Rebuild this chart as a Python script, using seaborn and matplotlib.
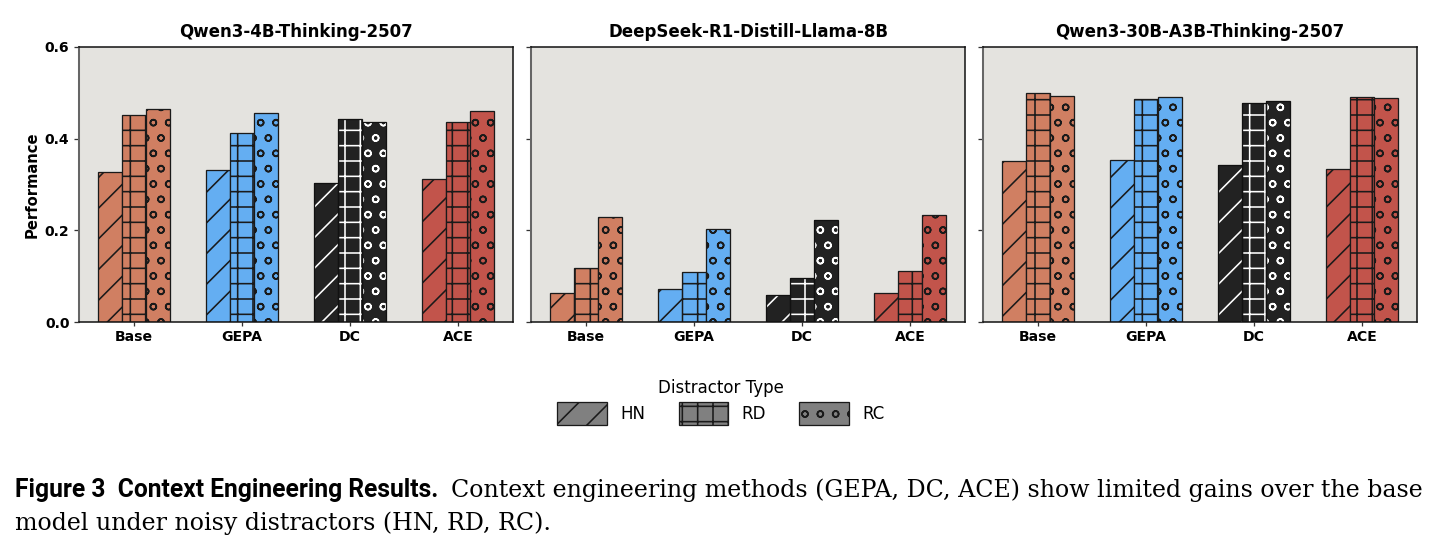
import numpy as np
import pandas as pd
import matplotlib
matplotlib.use("Agg")
import matplotlib.pyplot as plt
import seaborn as sns
from matplotlib.patches import Patch, Rectangle

# ---------------- data ----------------
models = ["Qwen3-4B-Thinking-2507", "DeepSeek-R1-Distill-Llama-8B", "Qwen3-30B-A3B-Thinking-2507"]
methods = ["Base", "GEPA", "DC", "ACE"]
distractors = ["HN", "RD", "RC"]

qwen4b_hn = [0.327, 0.331, 0.303, 0.312]
qwen4b_rd = [0.452, 0.412, 0.443, 0.437]
qwen4b_rc = [0.465, 0.455, 0.437, 0.460]

llama8b_hn = [0.064, 0.071, 0.058, 0.064]
llama8b_rd = [0.117, 0.110, 0.095, 0.112]
llama8b_rc = [0.230, 0.202, 0.222, 0.233]

qwen30b_hn = [0.351, 0.353, 0.343, 0.333]
qwen30b_rd = [0.499, 0.487, 0.478, 0.491]
qwen30b_rc = [0.493, 0.491, 0.483, 0.488]

yticks = [0.0, 0.2, 0.4, 0.6]

# ---------------- styles ----------------
method_colors = {"Base": "#d07f62", "GEPA": "#64aef2", "DC": "#222222", "ACE": "#c2544b"}
hatches = {"HN": "/", "RD": "+", "RC": "o"}
bg = "#e4e3df"

series = {
    models[0]: {"HN": qwen4b_hn, "RD": qwen4b_rd, "RC": qwen4b_rc},
    models[1]: {"HN": llama8b_hn, "RD": llama8b_rd, "RC": llama8b_rc},
    models[2]: {"HN": qwen30b_hn, "RD": qwen30b_rd, "RC": qwen30b_rc},
}

rows = []
for m in models:
    for d in distractors:
        for meth, v in zip(methods, series[m][d]):
            rows.append({"Model": m, "Method": meth, "Distractor": d, "Performance": v})
df = pd.DataFrame(rows)

sns.set_theme(style="white")
plt.rcParams["font.family"] = ["DejaVu Sans"]
plt.rcParams["hatch.linewidth"] = 1.25
for k in ["text.color", "axes.labelcolor", "xtick.color", "ytick.color"]:
    plt.rcParams[k] = "black"

DPI = 92
fig = plt.figure(figsize=(1442 / DPI, 551 / DPI), dpi=DPI)

lefts = [79, 531, 983]
ax_w = 434
top_px, bot_px = 47, 322
W, H = 1442, 551
axes = []
for i, m in enumerate(models):
    ax = fig.add_axes([lefts[i] / W, 1 - bot_px / H, ax_w / W, (bot_px - top_px) / H])
    axes.append(ax)
    sub = df[df["Model"] == m]
    sns.barplot(data=sub, x="Method", y="Performance", hue="Distractor",
                order=methods, hue_order=distractors, width=0.667,
                errorbar=None, legend=False, ax=ax)
    ax.set_facecolor(bg)
    for ci, cont in enumerate(ax.containers):
        d = distractors[ci]
        for bar in cont:
            xc = bar.get_x() + bar.get_width() / 2
            meth = methods[int(round(xc))]
            col = method_colors[meth]
            bar.set_facecolor(col)
            bar.set_hatch(hatches[d])
            if meth == "DC":
                bar.set_edgecolor("white")
                bar.set_linewidth(0)
                ax.add_patch(Rectangle(bar.get_xy(), bar.get_width(), bar.get_height(),
                                       fill=False, edgecolor="#111111", linewidth=1.0,
                                       zorder=bar.get_zorder() + 0.1))
            else:
                bar.set_edgecolor("#1a1a1a")
                bar.set_linewidth(1.0)
    ax.set_ylim(0, 0.6)
    ax.set_xlim(-0.51, 3.51)
    ax.set_yticks(yticks)
    ax.set_title(m, fontsize=13, fontweight="bold", pad=8, color="black")
    ax.set_xlabel("")
    ax.tick_params(axis="both", which="both", direction="out", length=4, width=1,
                   color="#333333", labelsize=11)
    ax.tick_params(axis="y", left=True)
    ax.tick_params(axis="x", bottom=True, length=3)
    for lab in ax.get_xticklabels():
        lab.set_fontweight("bold")
    if i == 0:
        ax.set_ylabel("Performance", fontsize=11.5, fontweight="bold")
        ax.set_yticklabels([f"{t:.1f}" for t in yticks])
        for lab in ax.get_yticklabels():
            lab.set_fontweight("bold")
    else:
        ax.set_ylabel("")
        ax.set_yticklabels([])
    for s in ["top", "right", "bottom"]:
        ax.spines[s].set_color("#111111")
        ax.spines[s].set_linewidth(1.2)
    ax.spines["left"].set_color("#666666")
    ax.spines["left"].set_linewidth(1.6)

handles = [Patch(facecolor="#808080", edgecolor="#1a1a1a", hatch=hatches[d], label=d)
           for d in distractors]
leg = fig.legend(handles=handles, title="Distractor Type", loc="upper center",
                 bbox_to_anchor=(0.5, 1 - 364 / H), ncol=3, frameon=False,
                 fontsize=13, title_fontsize=13, handlelength=3.0, handleheight=1.8,
                 handletextpad=0.8, columnspacing=2.0, labelspacing=0.3)

# caption
base_y = 1 - 497 / H
t1 = fig.text(15 / W, base_y, "Figure 3  Context Engineering Results.",
              fontsize=19.3, fontweight="bold", family=["Roboto", "DejaVu Sans"], va="baseline")
fig.canvas.draw()
bb = t1.get_window_extent()
x2 = (bb.x1 + 13) / W
fig.text(x2, base_y,
         "Context engineering methods (GEPA, DC, ACE) show limited gains over the base",
         fontsize=18.6, family=["DejaVu Serif"], va="baseline")
fig.text(15 / W, 1 - 530 / H, "model under noisy distractors (HN, RD, RC).",
         fontsize=18.6, family=["DejaVu Serif"], va="baseline")

fig.savefig("out.png", dpi=DPI, facecolor="white")
